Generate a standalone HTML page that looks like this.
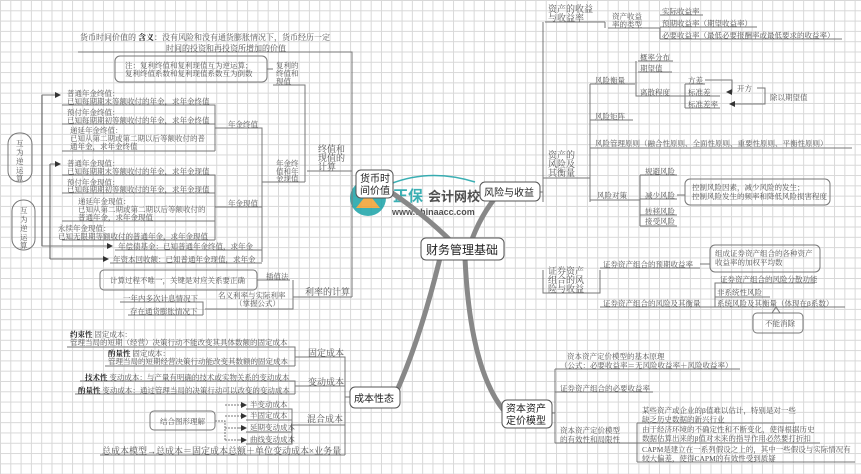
<!DOCTYPE html>
<html><head><meta charset="utf-8"><style>
html,body{margin:0;padding:0;}
body{width:861px;height:474px;overflow:hidden;background-color:#fff;
background-image:linear-gradient(#d8d8d8 1px,transparent 1px),linear-gradient(90deg,#d8d8d8 1px,transparent 1px);
background-size:10.3px 10.3px;}
svg{position:absolute;left:0;top:0;}
text{font-family:"Liberation Serif","Noto Serif CJK SC",serif;font-size:7.5px;fill:#555;}
.n{font-family:"Liberation Sans","Noto Sans CJK SC",sans-serif;font-size:11px;fill:#222;}
.m{font-size:9px;fill:#555;}
</style></head><body>
<svg width="861" height="474" viewBox="0 0 861 474">
<defs><marker id="a" markerWidth="6" markerHeight="6" refX="5" refY="3" orient="auto"><path d="M0,0L6,3L0,6z" fill="#333"/></marker></defs>
<g opacity="0.85">
<circle cx="368" cy="198" r="18" fill="#1aa3a8"/>
<path d="M356,208 L368,193 L380,208z" fill="#f0a030"/>
<text x="393" y="201" style="font-size:15px;fill:#1aa3a8;font-weight:bold;font-family:'Noto Sans CJK SC',sans-serif">正保</text>
<text x="428" y="201" style="font-size:13px;fill:#333;font-weight:bold;font-family:'Noto Sans CJK SC',sans-serif">会计网校</text>
<text x="392" y="215" style="font-size:9px;fill:#333;font-weight:bold;font-family:'Liberation Sans',sans-serif">www.chinaacc.com</text>
<path d="M390,184 Q430,168 475,182" stroke="#1aa3a8" stroke-width="1.5" fill="none"/>
</g>
<g stroke="#888" stroke-width="5" fill="none" stroke-linecap="round">
<path d="M455,245 Q420,210 380,185"/>
<path d="M470,245 Q480,215 500,192"/>
<path d="M440,258 Q420,340 395,395"/>
<path d="M465,258 Q470,370 505,412"/>
</g>

<g stroke="#777" stroke-width="1" fill="none">
<path d="M78,52H352V297"/>
<rect x="115" y="56" width="152" height="26" rx="5"/>
<path d="M267,69H273"/>
<path d="M273,85H305V182"/>
<path d="M62,105H215V151M62,124H215M62,151H215"/>
<path d="M215,128H262V262"/>
<path d="M262,182H305"/>
<path d="M307,171H352"/>
<path d="M62,175H215V240M62,193H215M62,221H215M62,240H215"/>
<path d="M215,207H262"/>
<path d="M115,250H262M110,263H262"/>
<path d="M42,95V246M50,164V259" stroke="#555"/>
<path d="M42,95H60" marker-end="url(#a)"/>
<path d="M50,164H60" marker-end="url(#a)"/>
<path d="M42,246H112" marker-end="url(#a)"/>
<path d="M50,259H108" marker-end="url(#a)"/>
<rect x="8" y="133" width="24" height="49" rx="11"/>
<rect x="12" y="200" width="23" height="50" rx="11"/>
<rect x="100" y="270" width="157" height="20" rx="4"/>
<path d="M257,280H290"/>
<path d="M205,309H293V280"/>
<path d="M293,297H352"/>
<path d="M120,302H203V315M128,315H203"/>
<path d="M67,347H295V366M105,366H295"/>
<path d="M295,357H345V455"/>
<path d="M80,381H295V394M75,394H295"/>
<path d="M295,386H345"/>
<rect x="150" y="411" width="65" height="19" rx="4"/>
<path d="M215,421H225V440M225,405H245M225,416H245M225,428H237M225,440H237" stroke-dasharray="2,1"/>
<path d="M245,405H246" marker-end="url(#a)"/><path d="M245,416H246" marker-end="url(#a)"/>
<path d="M237,428H246" marker-end="url(#a)"/><path d="M237,440H246" marker-end="url(#a)"/>
<path d="M246,409H292V444H246M246,420H292M246,432H292"/>
<path d="M292,425H345"/>
<path d="M100,455H345"/>
<path d="M345,397H350"/>
<path d="M545,22H605M608,28H660V39M660,15H703M660,27H757M660,39H842"/>
<path d="M605,22V28"/>
<path d="M540,192H543M543,22V202M543,178H590"/>
<path d="M590,84V202M590,84H635M638,61H673M638,72H672M636,61V96H690"/>
<path d="M685,84H705M685,96H720M685,108H720M685,84V108"/>
<path d="M705,80H732V92H727" marker-end="url(#a)"/>
<path d="M757,88H765V104H730" marker-end="url(#a)"/>
<path d="M590,120H633M590,148H852M590,200H640M640,175V226M640,175H677M640,199H677M640,215H677M640,226H677"/>
<rect x="685" y="179" width="145" height="26" rx="5"/>
<path d="M677,195H685"/>
<path d="M543,270V293H600V270M600,268H700M600,307H703M700,264H710"/>
<rect x="710" y="245" width="110" height="27" rx="5"/>
<path d="M703,307H715V283H815M715,297H770M715,307H845"/>
<rect x="753" y="313" width="50" height="20" rx="4"/>
<path d="M772,313L776,307L780,313"/>
<path d="M552,413H555M555,369V443M555,369H740M555,392H653M555,443H637M637,423V462M637,423H795M637,443H820M637,462H855"/>
</g>
<g fill="#fff" stroke="#555">
<rect x="356" y="170" width="37" height="28" rx="5"/>
<rect x="480" y="182" width="60" height="19" rx="5"/>
<rect x="421" y="238" width="83" height="22" rx="5"/>
<rect x="350" y="387" width="50" height="21" rx="5"/>
<rect x="502" y="400" width="50" height="28" rx="5"/>
</g>
<text class="n" x="360" y="182" style="font-size:10px">货币时</text><text class="n" x="360" y="194" style="font-size:10px">间价值</text>
<text class="n" x="484" y="196" style="font-size:10px">风险与收益</text>
<text class="n" x="426" y="254" style="font-size:12px">财务管理基础</text>
<text class="n" x="354" y="402" style="font-size:10px">成本性态</text>
<text class="n" x="506" y="412" style="font-size:10px">资本资产</text><text class="n" x="506" y="424" style="font-size:10px">定价模型</text>

<text x="80" y="40" style="font-size:8px">货币时间价值的 <tspan font-weight="bold" fill="#222">含义</tspan>：没有风险和没有通货膨胀情况下，货币经历一定</text>
<text x="166" y="51" style="font-size:8px">时间的投资和再投资所增加的价值</text>
<text x="125" y="68">注：复利终值和复利现值互为逆运算；</text>
<text x="125" y="76">复利终值系数和复利现值系数互为倒数</text>
<text x="276" y="68">复利的</text><text x="276" y="76">终值和</text><text x="276" y="84">现值</text>
<text x="67" y="96">普通年金终值：</text><text x="67" y="104">已知每期期末等额收付的年金，求年金终值</text>
<text x="67" y="115">预付年金终值：</text><text x="67" y="123">已知每期期初等额收付的年金，求年金终值</text>
<text x="70" y="133">递延年金终值：</text><text x="70" y="141">已知从第二期或第二期以后等额收付的普</text><text x="70" y="149">通年金，求年金终值</text>
<text x="228" y="127">年金终值</text>
<text x="276" y="166">年金终</text><text x="276" y="174">值和年</text><text x="276" y="181">金现值</text>
<text x="318" y="152" class="m">终值和</text><text x="318" y="161" class="m">现值的</text><text x="318" y="170" class="m">计算</text>
<text x="67" y="166">普通年金现值：</text><text x="67" y="174">已知每期期末等额收付的年金，求年金现值</text>
<text x="67" y="185">预付年金现值：</text><text x="67" y="192">已知每期期初等额收付的年金，求年金现值</text>
<text x="78" y="204">递延年金现值：</text><text x="78" y="212">已知从第二期或第二期以后等额收付的</text><text x="78" y="220">普通年金，求年金现值</text>
<text x="228" y="206">年金现值</text>
<text x="58" y="231">永续年金现值：</text><text x="58" y="239">已知无限期等额收付的普通年金，求年金现值</text>
<text x="16" y="146">互</text><text x="16" y="155">为</text><text x="16" y="164">逆</text><text x="16" y="173">运</text><text x="16" y="181">算</text>
<text x="20" y="213">互</text><text x="20" y="222">为</text><text x="20" y="231">逆</text><text x="20" y="240">运</text><text x="20" y="248">算</text>
<text x="118" y="249">年偿债基金：已知普通年金终值，求年金</text>
<text x="113" y="262">年资本回收额：已知普通年金现值，求年金</text>
<text x="110" y="283">计算过程不唯一，关键是对应关系要正确</text>
<text x="266" y="279">插值法</text>
<text x="218" y="298">名义利率与实际利率</text><text x="235" y="306">（掌握公式）</text>
<text x="305" y="295" class="m">利率的计算</text>
<text x="123" y="301">一年内多次计息情况下</text><text x="130" y="314">存在通货膨胀情况下</text>
<text x="70" y="337"><tspan font-weight="bold" fill="#222">约束性</tspan> 固定成本：</text>
<text x="70" y="345">管理当局的短期（经营）决策行动不能改变其具体数额的固定成本</text>
<text x="108" y="356"><tspan font-weight="bold" fill="#222">酌量性</tspan> 固定成本：</text>
<text x="108" y="364">管理当局的短期经营决策行动能改变其数额的固定成本</text>
<text x="308" y="356" class="m">固定成本</text>
<text x="85" y="380"><tspan font-weight="bold" fill="#222">技术性</tspan> 变动成本：与产量有明确的技术或实物关系的变动成本</text>
<text x="78" y="393"><tspan font-weight="bold" fill="#222">酌量性</tspan> 变动成本：通过管理当局的决策行动可以改变的变动成本</text>
<text x="308" y="385" class="m">变动成本</text>
<text x="160" y="424">结合图形理解</text>
<text x="250" y="407">半变动成本</text><text x="250" y="418">半固定成本</text><text x="250" y="430">延期变动成本</text><text x="250" y="442">曲线变动成本</text>
<text x="307" y="422" class="m">混合成本</text>
<text x="102" y="454" style="font-size:9px">总成本模型→总成本＝固定成本总额＋单位变动成本×业务量</text>

<text x="548" y="12" class="m">资产的收益</text><text x="548" y="21" class="m">与收益率</text>
<text x="612" y="19">资产收益</text><text x="612" y="27">率的类型</text>
<text x="662" y="14">实际收益率</text><text x="662" y="26">预期收益率（期望收益率）</text><text x="662" y="38">必要收益率（最低必要报酬率或最低要求的收益率）</text>
<text x="640" y="60">概率分布</text><text x="640" y="71">期望值</text><text x="640" y="95">离散程度</text>
<text x="595" y="83">风险衡量</text>
<text x="688" y="83">方差</text><text x="688" y="95">标准差</text><text x="688" y="107">标准差率</text>
<text x="737" y="91">开方</text><text x="770" y="100">除以期望值</text>
<text x="595" y="119">风险矩阵</text>
<text x="595" y="146">风险管理原则（融合性原则、全面性原则、重要性原则、平衡性原则）</text>
<text x="548" y="158" class="m">资产的</text><text x="548" y="167" class="m">风险及</text><text x="548" y="176" class="m">其衡量</text>
<text x="597" y="198">风险对策</text>
<text x="645" y="174">规避风险</text><text x="645" y="198">减少风险</text><text x="645" y="214">转移风险</text><text x="645" y="224">接受风险</text>
<text x="692" y="190">控制风险因素，减少风险的发生；</text><text x="692" y="199">控制风险发生的频率和降低风险损害程度</text>
<text x="548" y="274" class="m">证券资产</text><text x="548" y="283" class="m">组合的风</text><text x="548" y="292" class="m">险与收益</text>
<text x="603" y="267">证券资产组合的预期收益率</text>
<text x="715" y="256">组成证券资产组合的各种资产</text><text x="715" y="265">收益率的加权平均数</text>
<text x="603" y="306">证券资产组合的风险及其衡量</text>
<text x="720" y="282">证券资产组合的风险分散功能</text><text x="717" y="295">非系统性风险</text><text x="717" y="306">系统风险及其衡量（体现在β系数）</text>
<text x="765" y="326">不能消除</text>
<text x="567" y="359">资本资产定价模型的基本原理</text>
<text x="560" y="368">（公式：必要收益率＝无风险收益率＋风险收益率）</text>
<text x="560" y="391">证券资产组合的必要收益率</text>
<text x="560" y="433">资本资产定价模型</text><text x="560" y="442">的有效性和局限性</text>
<text x="642" y="413">某些资产或企业的β值难以估计，特别是对一些</text><text x="642" y="422">缺乏历史数据的新兴行业</text>
<text x="642" y="432">由于经济环境的不确定性和不断变化，使得根据历史</text><text x="642" y="441">数据估算出来的β值对未来的指导作用必然要打折扣</text>
<text x="642" y="452">CAPM是建立在一系列假设之上的，其中一些假设与实际情况有</text><text x="642" y="461">较大偏差，使得CAPM的有效性受到质疑</text>
</svg>
</body></html>
